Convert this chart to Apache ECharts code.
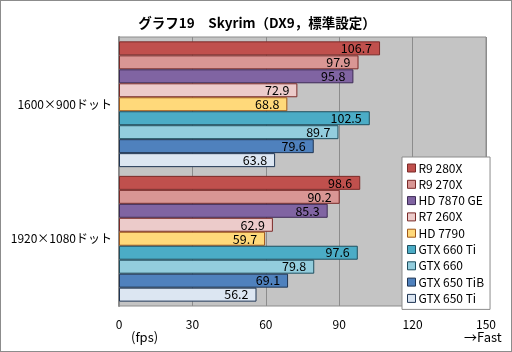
<!DOCTYPE html>
<html>
<head>
<meta charset="utf-8">
<script src="https://cdn.jsdelivr.net/npm/echarts@6/dist/echarts.min.js"></script>
<style>
html, body { margin: 0; padding: 0; background: #fff; }
#chart { width: 510px; height: 350px; border: 1px solid #8c8c8c; }
</style>
</head>
<body>
<div id="chart"></div>
<script>
var categories = ["1600×900ドット", "1920×1080ドット"];
var gpu_names = ["R9 280X", "R9 270X", "HD 7870 GE", "R7 260X", "HD 7790",
                 "GTX 660 Ti", "GTX 660", "GTX 650 TiB", "GTX 650 Ti"];
var fps_1600 = [106.7, 97.9, 95.8, 72.9, 68.8, 102.5, 89.7, 79.6, 63.8];
var fps_1920 = [98.6, 90.2, 85.3, 62.9, 59.7, 97.6, 79.8, 69.1, 56.2];
var x_ticks = [0, 30, 60, 90, 120, 150];

var fills = ["#c0504d", "#d99694", "#8064a2", "#eccbca", "#ffd97a",
             "#4bacc6", "#93cddd", "#4f81bd", "#dce6f2"];
var edges = ["#7a2a28", "#7a2a28", "#3d2a55", "#7a2a28", "#a0581a",
             "#1f4f5f", "#1f4f5f", "#1f3553", "#1f3553"];

var font = "'Noto Sans CJK JP', 'Noto Sans', sans-serif";
var chart_obj = echarts.init(document.getElementById("chart"));

var series = gpu_names.map(function (name, i) {
    return {
        name: name,
        type: "bar",
        barGap: "0%",
        barCategoryGap: "6.5%",
        data: [fps_1600[i], fps_1920[i]],
        itemStyle: { color: fills[i], borderColor: edges[i], borderWidth: 1 },
        label: {
            show: true,
            position: "insideRight",
            distance: 8,
            color: "#000",
            fontSize: 12.5,
            fontFamily: font,
            formatter: function (p) { return p.value.toFixed(1); }
        }
    };
});

var option = {
    animation: false,
    title: {
        text: "グラフ19　Skyrim（DX9，標準設定）",
        left: 251,
        textAlign: "center",
        top: 10,
        textStyle: { fontSize: 13.5, fontWeight: "bold", color: "#000", fontFamily: font }
    },
    legend: {
        orient: "vertical",
        left: 401,
        top: 156,
        width: 82,
        height: 147,
        padding: [5, 6, 5, 5],
        itemGap: 4.3,
        itemWidth: 8,
        itemHeight: 8,
        backgroundColor: "#fff",
        borderColor: "#8c8c8c",
        borderWidth: 1,
        textStyle: { fontSize: 12, color: "#000", fontFamily: font, padding: [0, 0, 0, -2] },
        data: gpu_names.map(function (n, i) {
            return { name: n, icon: "rect", itemStyle: { color: fills[i], borderColor: edges[i], borderWidth: 1 } };
        })
    },
    grid: {
        left: 118,
        right: 25,
        top: 36,
        bottom: 45,
        show: true,
        backgroundColor: "#c4c4c4",
        borderColor: "#8c8c8c",
        borderWidth: 1
    },
    xAxis: {
        type: "value",
        min: x_ticks[0],
        max: x_ticks[x_ticks.length - 1],
        interval: 30,
        axisLine: { show: false },
        axisTick: { show: false },
        axisLabel: { color: "#000", fontSize: 12, fontFamily: font, margin: 12 },
        splitLine: { show: true, lineStyle: { color: "#8c8c8c", width: 1 } }
    },
    yAxis: {
        type: "category",
        inverse: true,
        data: categories,
        axisLine: { show: true, lineStyle: { color: "#8c8c8c", width: 2 } },
        axisTick: { show: false },
        axisLabel: { color: "#000", fontSize: 12, fontFamily: font, margin: 7 }
    },
    graphic: [
        { type: "text", left: 130, top: 330, style: { text: "(fps)", fontSize: 13, fontFamily: font, fill: "#000" } },
        { type: "text", left: 463, top: 330, style: { text: "→Fast", fontSize: 13, fontFamily: font, fill: "#000" } }
    ],
    series: series
};
chart_obj.setOption(option);
</script>
</body>
</html>
